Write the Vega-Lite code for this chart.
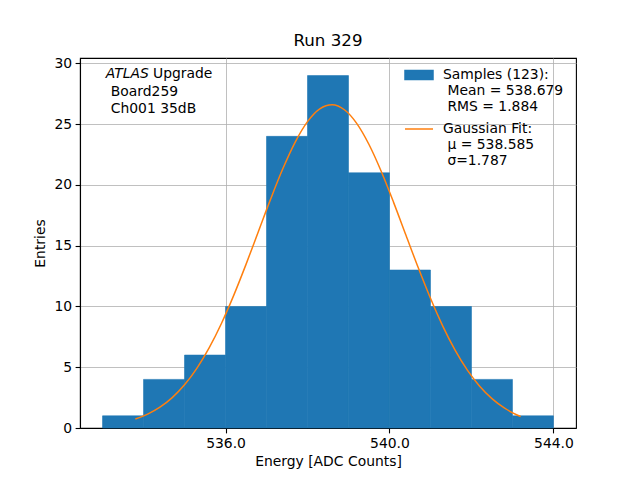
{
  "$schema": "https://vega.github.io/schema/vega-lite/v6.json",
  "width": 496,
  "height": 370,
  "autosize": {"type": "none"},
  "padding": {"left": 80, "top": 58, "right": 64, "bottom": 52},
  "background": "white",
  "title": {"text": "Run 329", "fontSize": 16.7, "fontWeight": "normal", "font": "DejaVu Sans", "color": "black", "offset": 7},
  "config": {
    "font": "DejaVu Sans",
    "view": {"stroke": "black", "strokeWidth": 1.1},
    "axis": {
      "labelFont": "DejaVu Sans", "labelFontSize": 13.9, "labelColor": "black",
      "titleFont": "DejaVu Sans", "titleFontSize": 13.9, "titleFontWeight": "normal", "titleColor": "black",
      "domainColor": "black", "domainWidth": 1.1, "tickColor": "black", "tickWidth": 1.1, "tickSize": 4.9,
      "labelPadding": 3.5, "gridColor": "#b0b0b0", "gridWidth": 0.8, "zindex": 1
    },
    "legend": {
      "labelFont": "DejaVu Sans", "labelFontSize": 13.9, "labelColor": "black",
      "labelOffset": 9, "symbolSize": 784, "labelLimit": 300, "padding": 0
    }
  },
  "resolve": {"scale": {"color": "independent"}},
  "datasets": {
    "hist": [
      {"bin_start": 533, "bin_end": 534, "count": 1, "series": "Samples"},
      {"bin_start": 534, "bin_end": 535, "count": 4, "series": "Samples"},
      {"bin_start": 535, "bin_end": 536, "count": 6, "series": "Samples"},
      {"bin_start": 536, "bin_end": 537, "count": 10, "series": "Samples"},
      {"bin_start": 537, "bin_end": 538, "count": 24, "series": "Samples"},
      {"bin_start": 538, "bin_end": 539, "count": 29, "series": "Samples"},
      {"bin_start": 539, "bin_end": 540, "count": 21, "series": "Samples"},
      {"bin_start": 540, "bin_end": 541, "count": 13, "series": "Samples"},
      {"bin_start": 541, "bin_end": 542, "count": 10, "series": "Samples"},
      {"bin_start": 542, "bin_end": 543, "count": 4, "series": "Samples"},
      {"bin_start": 543, "bin_end": 544, "count": 1, "series": "Samples"}
    ],
    "fit": [
      {"x": 533.8, "y": 0.738, "series": "Gaussian Fit"},
      {"x": 534.1, "y": 1.140, "series": "Gaussian Fit"},
      {"x": 534.4, "y": 1.714, "series": "Gaussian Fit"},
      {"x": 534.7, "y": 2.504, "series": "Gaussian Fit"},
      {"x": 535.0, "y": 3.556, "series": "Gaussian Fit"},
      {"x": 535.3, "y": 4.910, "series": "Gaussian Fit"},
      {"x": 535.6, "y": 6.591, "series": "Gaussian Fit"},
      {"x": 535.9, "y": 8.603, "series": "Gaussian Fit"},
      {"x": 536.2, "y": 10.917, "series": "Gaussian Fit"},
      {"x": 536.5, "y": 13.467, "series": "Gaussian Fit"},
      {"x": 536.8, "y": 16.152, "series": "Gaussian Fit"},
      {"x": 537.1, "y": 18.834, "series": "Gaussian Fit"},
      {"x": 537.4, "y": 21.350, "series": "Gaussian Fit"},
      {"x": 537.7, "y": 23.530, "series": "Gaussian Fit"},
      {"x": 538.0, "y": 25.212, "series": "Gaussian Fit"},
      {"x": 538.3, "y": 26.264, "series": "Gaussian Fit"},
      {"x": 538.6, "y": 26.599, "series": "Gaussian Fit"},
      {"x": 538.9, "y": 26.190, "series": "Gaussian Fit"},
      {"x": 539.2, "y": 25.071, "series": "Gaussian Fit"},
      {"x": 539.5, "y": 23.332, "series": "Gaussian Fit"},
      {"x": 539.8, "y": 21.111, "series": "Gaussian Fit"},
      {"x": 540.1, "y": 18.570, "series": "Gaussian Fit"},
      {"x": 540.4, "y": 15.882, "series": "Gaussian Fit"},
      {"x": 540.7, "y": 13.203, "series": "Gaussian Fit"},
      {"x": 541.0, "y": 10.673, "series": "Gaussian Fit"},
      {"x": 541.3, "y": 8.387, "series": "Gaussian Fit"},
      {"x": 541.6, "y": 6.409, "series": "Gaussian Fit"},
      {"x": 541.9, "y": 4.761, "series": "Gaussian Fit"},
      {"x": 542.2, "y": 3.438, "series": "Gaussian Fit"},
      {"x": 542.5, "y": 2.413, "series": "Gaussian Fit"},
      {"x": 542.8, "y": 1.647, "series": "Gaussian Fit"},
      {"x": 543.1, "y": 1.093, "series": "Gaussian Fit"},
      {"x": 543.2, "y": 0.947, "series": "Gaussian Fit"}
    ],
    "note": [{"line1": "Upgrade", "line2": "Board259", "line3": "Ch001 35dB", "tag": "ATLAS"}]
  },
  "layer": [
    {
      "data": {"name": "hist"},
      "mark": {"type": "bar", "stroke": "#1f77b4", "strokeWidth": 0.6},
      "encoding": {
        "x": {"field": "bin_start", "type": "quantitative",
              "scale": {"domain": [532.45, 544.55], "nice": false, "zero": false},
              "axis": {"title": "Energy [ADC Counts]", "values": [536, 540, 544], "format": ".1f", "titlePadding": 4}},
        "x2": {"field": "bin_end"},
        "y": {"field": "count", "type": "quantitative",
              "scale": {"domain": [0, 30.45], "nice": false},
              "axis": {"title": "Entries", "values": [0, 5, 10, 15, 20, 25, 30], "titlePadding": 6}},
        "y2": {"datum": 0},
        "color": {"field": "series", "type": "nominal",
                  "scale": {"domain": ["Samples"], "range": ["#1f77b4"]},
                  "legend": {
                    "title": null, "orient": "none", "legendX": 324, "legendY": 2,
                    "symbolType": "M-1,-0.33L1,-0.33L1,0.33L-1,0.33Z",
                    "labelExpr": "['Samples (123):', '\u200b Mean = 538.679', '\u200b RMS = 1.884']",
                    "encode": {"labels": {"lineHeight": {"value": 17}}}
                  }}
      }
    },
    {
      "data": {"name": "fit"},
      "mark": {"type": "line", "strokeWidth": 1.5, "interpolate": "monotone"},
      "encoding": {
        "x": {"field": "x", "type": "quantitative"},
        "y": {"field": "y", "type": "quantitative"},
        "color": {"field": "series", "type": "nominal",
                  "scale": {"domain": ["Gaussian Fit"], "range": ["#ff7f0e"]},
                  "legend": {
                    "title": null, "orient": "none", "legendX": 324, "legendY": 56,
                    "symbolType": "stroke", "symbolStrokeWidth": 1.5,
                    "labelExpr": "['Gaussian Fit:', '\u200b μ = 538.585', '\u200b σ=1.787']",
                    "encode": {"labels": {"lineHeight": {"value": 17}}}
                  }}
      }
    },
    {
      "data": {"name": "note"},
      "mark": {"type": "text", "align": "left", "baseline": "middle", "fontSize": 13.9, "fontStyle": "italic", "font": "DejaVu Sans", "color": "black"},
      "encoding": {"x": {"datum": 533.08}, "y": {"datum": 29.15}, "text": {"field": "tag"}}
    },
    {
      "data": {"name": "note"},
      "mark": {"type": "text", "align": "left", "baseline": "middle", "fontSize": 13.9, "font": "DejaVu Sans", "color": "black"},
      "encoding": {"x": {"datum": 534.23}, "y": {"datum": 29.15}, "text": {"field": "line1"}}
    },
    {
      "data": {"name": "note"},
      "mark": {"type": "text", "align": "left", "baseline": "middle", "fontSize": 13.9, "font": "DejaVu Sans", "color": "black"},
      "encoding": {"x": {"datum": 533.2}, "y": {"datum": 27.64}, "text": {"field": "line2"}}
    },
    {
      "data": {"name": "note"},
      "mark": {"type": "text", "align": "left", "baseline": "middle", "fontSize": 13.9, "font": "DejaVu Sans", "color": "black"},
      "encoding": {"x": {"datum": 533.2}, "y": {"datum": 26.27}, "text": {"field": "line3"}}
    }
  ]
}
